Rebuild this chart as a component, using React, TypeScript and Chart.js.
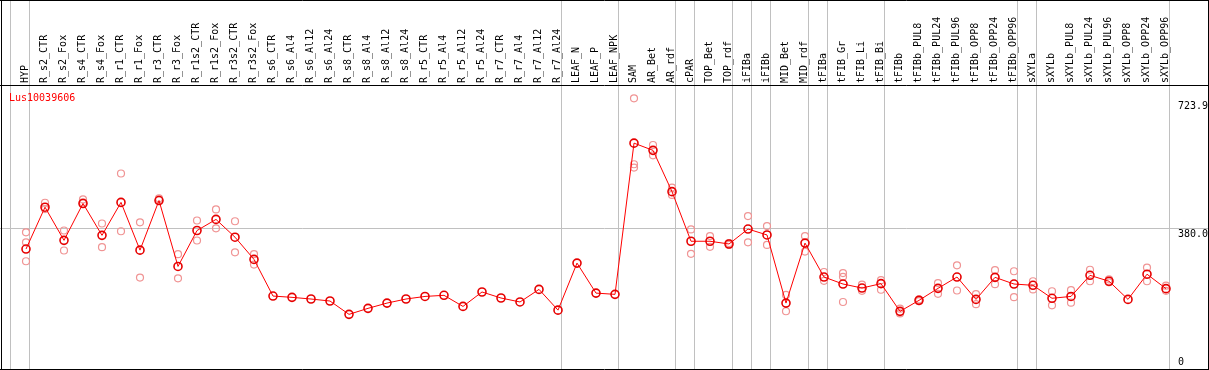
import React, { useEffect, useRef } from "react";
import { Chart, registerables } from "chart.js";

Chart.register(...registerables);

const GENE_ID = "Lus10039606";

const CATEGORIES = [
  "HYP",
  "R_s2_CTR", "R_s2_Fox", "R_s4_CTR", "R_s4_Fox", "R_r1_CTR", "R_r1_Fox",
  "R_r3_CTR", "R_r3_Fox", "R_r1s2_CTR", "R_r1s2_Fox", "R_r3s2_CTR", "R_r3s2_Fox",
  "R_s6_CTR", "R_s6_Al4", "R_s6_Al12", "R_s6_Al24",
  "R_s8_CTR", "R_s8_Al4", "R_s8_Al12", "R_s8_Al24",
  "R_r5_CTR", "R_r5_Al4", "R_r5_Al12", "R_r5_Al24",
  "R_r7_CTR", "R_r7_Al4", "R_r7_Al12", "R_r7_Al24",
  "LEAF_N", "LEAF_P", "LEAF_NPK",
  "SAM", "AR_Bet", "AR_rdf",
  "cPAR",
  "TOP_Bet", "TOP_rdf",
  "iFIBa", "iFIBb",
  "MID_Bet", "MID_rdf",
  "tFIBa",
  "tFIB_Gr", "tFIB_Li", "tFIB_Bi",
  "tFIBb", "tFIBb_PUL8", "tFIBb_PUL24", "tFIBb_PUL96", "tFIBb_OPP8", "tFIBb_OPP24", "tFIBb_OPP96",
  "sXYLa",
  "sXYLb", "sXYLb_PUL8", "sXYLb_PUL24", "sXYLb_PUL96", "sXYLb_OPP8", "sXYLb_OPP24", "sXYLb_OPP96",
];

const MEANS = [
  324,
  437, 347.5, 447, 361, 450, 321,
  455, 277, 374, 404, 356, 296,
  197, 193.5, 189, 183.6,
  147.6, 163.8, 178, 189,
  196, 199, 169, 208,
  191.7, 181, 215, 159,
  286, 205, 201.6,
  610, 590.5, 479,
  345,
  345, 337.6,
  378, 362,
  178, 340,
  248.4,
  229.5, 218.7, 230.5,
  155.7, 185.4, 217.8, 248.4, 188, 247.5, 229.5,
  226,
  191, 196, 253, 237, 188, 256, 217,
];

const REPLICATES = [
  [369, 342, 291],
  [449, 432], [374, 320], [458, 450], [393, 329], [528, 372], [396, 247],
  [461, 458], [310, 245], [401, 347], [431, 380], [399, 315], [310, 282],
  [], [], [], [],
  [], [], [], [],
  [], [], [], [],
  [], [], [], [],
  [], [], [],
  [731, 553, 544], [605, 577], [490, 470],
  [377, 311],
  [359, 330], [340, 335],
  [413, 342], [386, 335],
  [200, 156], [359, 317],
  [262, 238],
  [259, 249, 181], [228, 211], [240, 214],
  [163, 150], [188, 183], [232, 203], [280, 212], [202, 175], [267, 229], [264, 194],
  [237, 215],
  [210, 172], [213, 179], [268, 237], [242, 234], [], [274, 237], [225, 211],
];

// index of the first category of each group (last entry = end)
const GROUP_STARTS = [0, 1, 29, 32, 35, 36, 38, 39, 40, 42, 43, 46, 53, 54, 61];

const Y_TICKS = [0, 380.0, 723.9];
const Y_TICK_LABELS = ["0", "380.0", "723.9"];
const Y_GRID = [380.0];
const Y_MAX = 767;

const FONT_FAMILY = "'DejaVu Sans Mono', monospace";

export default function App() {
  const canvasRef = useRef<HTMLCanvasElement | null>(null);

  useEffect(() => {
    const canvas = canvasRef.current;
    if (!canvas) return;

    const meanPoints = MEANS.map((v, i) => ({ x: i, y: v }));
    const repPoints: { x: number; y: number }[] = [];
    REPLICATES.forEach((reps, i) => reps.forEach((v) => repPoints.push({ x: i, y: v })));

    const framePlugin = {
      id: "framePlugin",
      beforeDraw(chart: any) {
        const ctx = chart.ctx;
        const { chartArea } = chart;
        const xs = chart.scales.x;
        ctx.save();
        ctx.fillStyle = "#ffffff";
        ctx.fillRect(0, 0, chart.width, chart.height);
        ctx.strokeStyle = "#c0c0c0";
        ctx.lineWidth = 1;
        GROUP_STARTS.forEach((b) => {
          const px = Math.floor(xs.getPixelForValue(b - 0.816)) + 0.5;
          ctx.beginPath();
          ctx.moveTo(px, 0);
          ctx.lineTo(px, chartArea.bottom);
          ctx.stroke();
        });
        ctx.restore();
      },
      afterDraw(chart: any) {
        const ctx = chart.ctx;
        const { chartArea } = chart;
        const ys = chart.scales.y;
        ctx.save();
        ctx.font = `10px ${FONT_FAMILY}`;
        ctx.textBaseline = "alphabetic";
        ctx.textAlign = "left";
        // y labels
        ctx.fillStyle = "#000000";
        Y_TICKS.forEach((v, i) => {
          const py = ys.getPixelForValue(v);
          const base = Math.min(py + 8.5, chartArea.bottom - 4.5);
          ctx.fillText(Y_TICK_LABELS[i], chartArea.right - 31, base);
        });
        // gene id
        ctx.fillStyle = "#ff0000";
        ctx.fillText(GENE_ID, chartArea.left + 9, chartArea.top + 16);
        // frame
        ctx.strokeStyle = "#000000";
        ctx.lineWidth = 1;
        ctx.beginPath();
        ctx.moveTo(0, 0.5);
        ctx.lineTo(chart.width, 0.5);
        ctx.moveTo(0, Math.floor(chartArea.top) + 0.5);
        ctx.lineTo(chart.width, Math.floor(chartArea.top) + 0.5);
        ctx.moveTo(0, Math.floor(chartArea.bottom) + 0.5);
        ctx.lineTo(chart.width, Math.floor(chartArea.bottom) + 0.5);
        ctx.moveTo(1.5, 0);
        ctx.lineTo(1.5, chartArea.bottom + 1);
        ctx.moveTo(chart.width - 0.5, 0);
        ctx.lineTo(chart.width - 0.5, chartArea.bottom + 1);
        ctx.stroke();
        ctx.restore();
      },
    };

    const xMin = -26 / 19;
    const xMax = xMin + 1209 / 19;

    const chart = new Chart(canvas, {
      type: "line",
      data: {
        datasets: [
          {
            label: "mean",
            data: meanPoints,
            borderColor: "#ff0000",
            borderWidth: 1,
            pointRadius: 4,
            pointBorderWidth: 1.6,
            pointBorderColor: "#e60000",
            pointBackgroundColor: "rgba(0,0,0,0)",
            fill: false,
            tension: 0,
            order: 0,
          },
          {
            label: "replicates",
            data: repPoints,
            showLine: false,
            borderColor: "#f0a0a0",
            pointRadius: 3.5,
            pointBorderWidth: 1.2,
            pointBorderColor: "#f09494",
            pointBackgroundColor: "rgba(0,0,0,0)",
            order: 1,
          },
        ],
      },
      options: {
        responsive: false,
        animation: false,
        events: [],
        layout: { autoPadding: false, padding: { left: 0, right: 0, top: 0, bottom: 1 } },
        plugins: {
          legend: { display: false },
          tooltip: { enabled: false },
          title: { display: false },
        },
        scales: {
          x: {
            type: "linear",
            position: "top",
            min: xMin,
            max: xMax,
            afterBuildTicks: (scale: any) => {
              scale.ticks = CATEGORIES.map((_, i) => ({ value: i }));
            },
            afterFit: (scale: any) => {
              scale.height = 85;
            },
            grid: { display: false, drawTicks: false },
            border: { display: false },
            ticks: {
              autoSkip: false,
              minRotation: 90,
              maxRotation: 90,
              padding: 2,
              labelOffset: 11.5,
              color: "#000000",
              font: { family: FONT_FAMILY, size: 10 },
              callback: (value: any) => CATEGORIES[Math.round(value)] ?? "",
            },
          },
          y: {
            type: "linear",
            position: "right",
            min: 0,
            max: Y_MAX,
            afterBuildTicks: (scale: any) => {
              scale.ticks = Y_TICKS.map((v) => ({ value: v }));
            },
            grid: {
              drawTicks: false,
              lineWidth: 1,
              color: (ctx: any) =>
                ctx.tick && Y_GRID.includes(ctx.tick.value) ? "#c0c0c0" : "rgba(0,0,0,0)",
            },
            border: { display: false },
            ticks: { display: false },
          },
        },
      },
      plugins: [framePlugin],
    } as any);

    return () => chart.destroy();
  }, []);

  return (
    <div style={{ position: "absolute", left: 0, top: 0, width: 1209, height: 370 }}>
      <canvas ref={canvasRef} width={1209} height={370} style={{ display: "block" }} />
    </div>
  );
}
